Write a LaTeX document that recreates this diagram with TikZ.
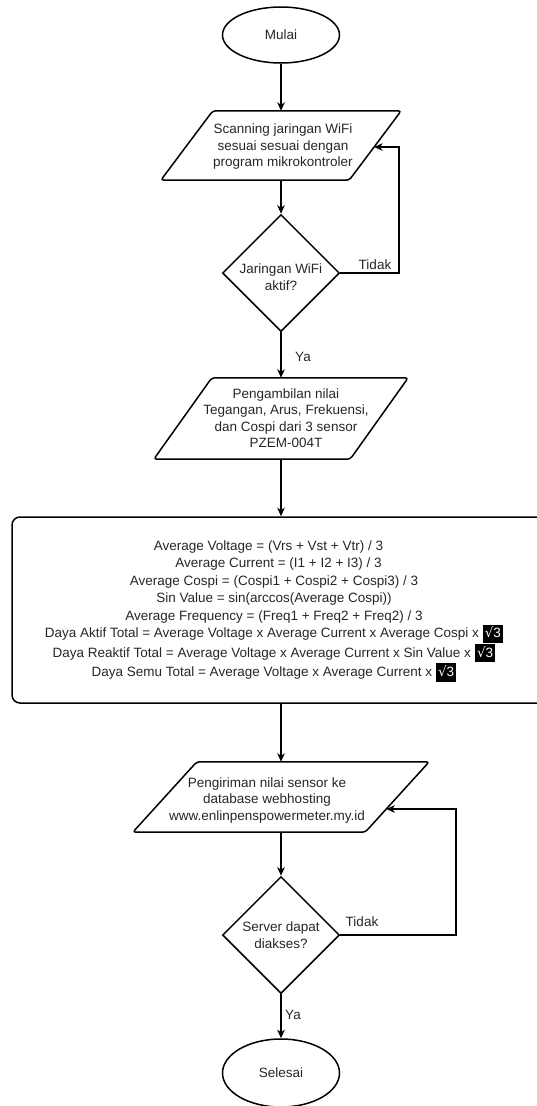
\documentclass[tikz,border=0pt]{standalone}
\usepackage{fontspec}
\setmainfont{Liberation Sans}
\newfontfamily\symfont{DejaVu Sans}
\usetikzlibrary{shapes.geometric,arrows.meta,calc}

% white-on-black square root of three
\newcommand\rootthree{{\setlength{\fboxsep}{2.2pt}\colorbox{black}{\rule[-3pt]{0pt}{12.8pt}\textcolor{white}{{\symfont √}3}}}}

\begin{document}
\begin{tikzpicture}[x=1pt,y=-1pt,
  every node/.style={font=\fontsize{13.5}{16.5}\selectfont, text=black!85},
  outline/.style={draw=black, line width=1.5pt},
  terminal/.style={ellipse, outline, minimum width=117pt, inner sep=0pt},
  decision/.style={diamond, outline, minimum width=117pt, minimum height=117pt, inner sep=0pt, align=center},
  iobody/.style={rectangle, inner sep=0pt},
  ioshape/.style={outline, rounded corners=3pt},
  txt/.style={inner sep=0pt, align=center},
  arr/.style={draw=black, line width=1.3pt, -{Stealth[length=8.5pt,width=7.5pt,inset=2.5pt]}},
  lbl/.style={inner sep=0pt}]
\useasboundingbox (0,0) rectangle (537,1106);
\clip (0,0) rectangle (537,1106);

% start
\node[terminal, minimum height=56pt] (start) at (281,35) {Mulai};

% scanning the WiFi network
\node[iobody, minimum width=188pt, minimum height=69pt] (scan) at (281,145.5) {};
\draw[ioshape] ([xshift=-26pt]scan.south west) -- ([xshift=26pt]scan.north west)
  -- ([xshift=26pt]scan.north east) -- ([xshift=-26pt]scan.south east) -- cycle;
\node[txt] (scantext) at (283,147) {Scanning jaringan WiFi\\sesuai sesuai dengan\\program mikrokontroler};

% WiFi check
\node[decision] (wifi) at (281,273) {};
\node[txt] (wifitext) at (281,277) {Jaringan WiFi\\aktif?};

% reading the sensors
\node[iobody, minimum width=196pt, minimum height=81pt] (read) at (281,418.5) {};
\draw[ioshape] ([xshift=-29pt]read.south west) -- ([xshift=29pt]read.north west)
  -- ([xshift=29pt]read.north east) -- ([xshift=-29pt]read.south east) -- cycle;
\node[txt] (readtext) at (286,418) {Pengambilan nilai\\Tegangan, Arus, Frekuensi,\\dan Cospi dari 3 sensor\\PZEM-004T};

% calculations
\node[draw=black, line width=1.5pt, rounded corners=8pt, minimum width=538pt, minimum height=186pt, inner sep=0pt] (calc) at (281,610) {};
\node[txt, font=\fontsize{13.5}{17.5}\selectfont] (calctext) at (274,611) {%
\hspace*{-11pt}Average Voltage = (Vrs + Vst + Vtr) / 3\\
\hspace*{9pt}Average Current = (I1 + I2 + I3) / 3\\
Average Cospi = (Cospi1 + Cospi2 + Cospi3) / 3\\
Sin Value = sin(arccos(Average Cospi))\\
Average Frequency = (Freq1 + Freq2 + Freq2) / 3\\
Daya Aktif Total = Average Voltage x Average Current x Average Cospi x \rootthree\\
Daya Reaktif Total = Average Voltage x Average Current x Sin Value x \rootthree\\
Daya Semu Total = Average Voltage x Average Current x \rootthree};

% sending to the database
\node[iobody, minimum width=232pt, minimum height=70pt] (send) at (281,797) {};
\draw[ioshape] ([xshift=-32pt]send.south west) -- ([xshift=32pt]send.north west)
  -- ([xshift=32pt]send.north east) -- ([xshift=-32pt]send.south east) -- cycle;
\node[txt] (sendtext) at (267,800) {Pengiriman nilai sensor ke\\database webhosting\\www.enlinpenspowermeter.my.id};

% server check
\node[decision] (server) at (281,935) {Server dapat\\diakses?};

% end
\node[terminal, minimum height=68pt] (stop) at (281,1073) {Selesai};

% entry points of the loop-back arrows on the slanted edges
\coordinate (scanin) at ($([xshift=26pt]scan.north east)!0.522!([xshift=-26pt]scan.south east)$);
\coordinate (sendin) at ($([xshift=32pt]send.north east)!0.671!([xshift=-32pt]send.south east)$);
\coordinate (loopa) at (399,0);
\coordinate (loopb) at (456,0);

% main flow
\draw[arr] (start) -- (scan.north);
\draw[arr] (scan.south) -- (wifi.north);
\draw[arr] (wifi.south) -- (read.north);
\draw[arr] (read.south) -- (calc.north);
\draw[arr] (calc.south) -- (send.north);
\draw[arr] (send.south) -- (server.north);
\draw[arr] (server.south) -- (stop.north);

% loop-backs
\draw[arr] (wifi.east) -- (wifi.east -| loopa) -- (loopa |- scanin) -- (scanin);
\draw[arr] (server.east) -- (server.east -| loopb) -- (loopb |- sendin) -- (sendin);

% branch labels
\node[lbl] (tidak1) at (375,265) {Tidak};
\node[lbl] (ya1) at (303,357) {Ya};
\node[lbl] (tidak2) at (362,922) {Tidak};
\node[lbl] (ya2) at (293,1015) {Ya};
\end{tikzpicture}
\end{document}
